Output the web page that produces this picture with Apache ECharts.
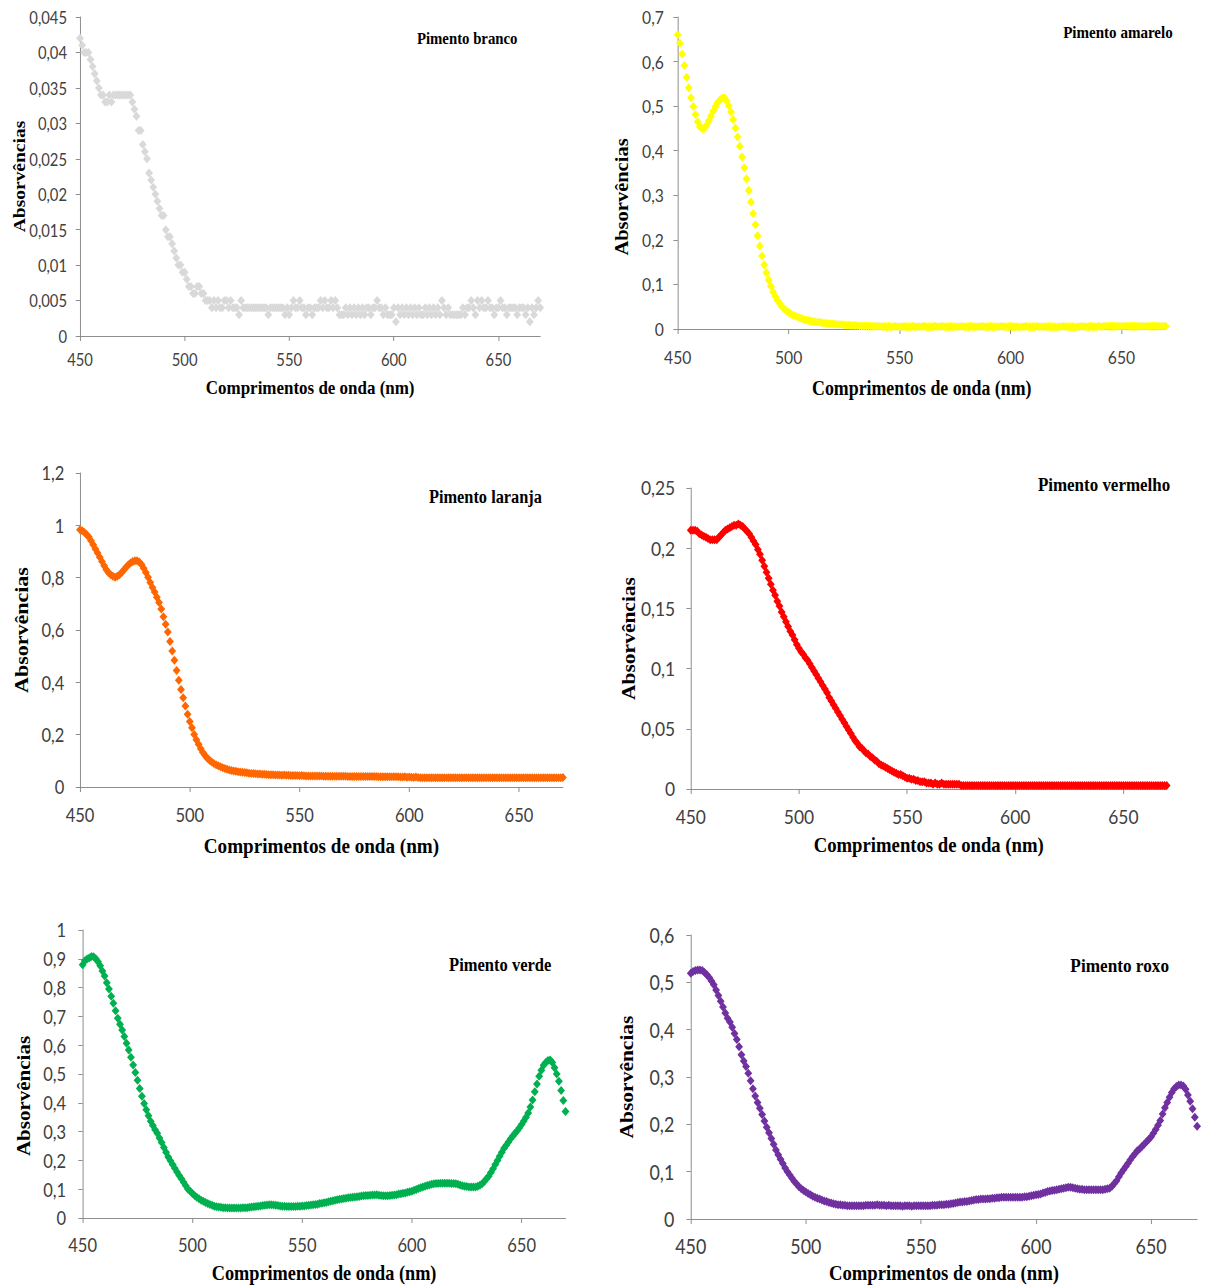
<!DOCTYPE html>
<html>
<head>
<meta charset="utf-8">
<script src="https://cdn.jsdelivr.net/npm/echarts@6/dist/echarts.min.js"></script>
<style>
html,body{margin:0;padding:0;background:#fff;overflow:hidden;width:1208px;height:1285px}
#wrap{width:1208px;height:1285px;overflow:hidden;position:relative}
#chart{width:1389px;height:1285px;transform:scaleX(0.87);transform-origin:0 0}
</style>
</head>
<body>
<div id="wrap"><div id="chart"></div></div>
<script>
// ---------- DATA ----------
const wavelengthStart = 450;
const wavelengthEnd = 670;
const wavelengths = [];
for (let w = wavelengthStart; w <= wavelengthEnd; w++) wavelengths.push(w);
const xTickValues = [450, 500, 550, 600, 650];
const xAxisTitle = 'Comprimentos de onda (nm)';
const yAxisTitle = 'Absorvências';
const panelTitles = ['Pimento branco','Pimento amarelo','Pimento laranja','Pimento vermelho','Pimento verde','Pimento roxo'];
const yMaxes = [0.045, 0.7, 1.2, 0.25, 1, 0.6];
const yIntervals = [0.005, 0.1, 0.2, 0.05, 0.1, 0.1];

const branco = [
0.042,0.041,0.040,0.040,0.040,0.039,0.038,0.037,0.036,0.035,
0.034,0.034,0.033,0.033,0.034,0.033,0.034,0.034,0.034,0.034,
0.034,0.034,0.034,0.034,0.034,0.033,0.032,0.031,0.029,0.029,
0.027,0.026,0.025,0.023,0.022,0.021,0.020,0.019,0.018,0.017,
0.017,0.015,0.014,0.014,0.013,0.012,0.011,0.010,0.010,0.009,
0.009,0.008,0.007,0.007,0.006,0.006,0.007,0.007,0.006,0.006,
0.005,0.005,0.005,0.004,0.005,0.004,0.005,0.004,0.004,0.005,
0.005,0.004,0.005,0.004,0.004,0.004,0.003,0.005,0.004,0.004,
0.004,0.004,0.004,0.004,0.004,0.004,0.004,0.004,0.004,0.004,
0.003,0.004,0.004,0.004,0.004,0.004,0.004,0.004,0.003,0.004,
0.003,0.004,0.005,0.004,0.004,0.005,0.004,0.004,0.003,0.004,
0.004,0.003,0.004,0.004,0.004,0.005,0.004,0.005,0.004,0.004,
0.005,0.004,0.005,0.004,0.003,0.003,0.003,0.004,0.003,0.004,
0.003,0.004,0.003,0.004,0.003,0.004,0.003,0.004,0.004,0.003,
0.004,0.004,0.005,0.004,0.004,0.003,0.004,0.003,0.003,0.003,
0.004,0.002,0.004,0.003,0.004,0.003,0.004,0.003,0.004,0.003,
0.004,0.003,0.004,0.003,0.003,0.004,0.003,0.004,0.003,0.004,
0.003,0.004,0.003,0.005,0.004,0.003,0.004,0.003,0.003,0.003,
0.003,0.003,0.003,0.004,0.003,0.004,0.004,0.005,0.004,0.003,
0.005,0.004,0.005,0.004,0.004,0.005,0.004,0.004,0.003,0.004,
0.004,0.005,0.004,0.004,0.003,0.004,0.004,0.004,0.004,0.003,
0.004,0.004,0.004,0.003,0.004,0.002,0.004,0.003,0.004,0.005,
0.004];

const amarelo = [
0.660,0.641,0.617,0.591,0.565,0.541,0.519,0.499,0.481,0.465,
0.454,0.449,0.450,0.457,0.467,0.478,0.489,0.499,0.508,0.514,
0.518,0.518,0.512,0.501,0.487,0.470,0.451,0.431,0.410,0.386,
0.362,0.337,0.311,0.285,0.259,0.234,0.209,0.186,0.164,0.144,
0.126,0.110,0.096,0.083,0.073,0.064,0.057,0.050,0.045,0.041,
0.037,0.034,0.031,0.029,0.027,0.025,0.023,0.021,0.020,0.019,
0.018,0.017,0.016,0.015,0.015,0.014,0.013,0.013,0.012,0.012,
0.011,0.011,0.010,0.010,0.010,0.009,0.009,0.009,0.008,0.008,
0.008,0.008,0.007,0.007,0.007,0.007,0.007,0.006,0.006,0.006,
0.006,0.006,0.005,0.006,0.005,0.006,0.005,0.005,0.006,0.005,
0.005,0.005,0.006,0.005,0.005,0.005,0.006,0.005,0.005,0.005,
0.005,0.006,0.005,0.005,0.005,0.005,0.006,0.005,0.005,0.006,
0.005,0.005,0.005,0.006,0.005,0.005,0.005,0.005,0.006,0.005,
0.005,0.005,0.006,0.005,0.005,0.005,0.005,0.006,0.005,0.005,
0.005,0.006,0.005,0.005,0.005,0.005,0.006,0.005,0.005,0.005,
0.006,0.005,0.005,0.005,0.004,0.005,0.005,0.006,0.005,0.005,
0.005,0.005,0.006,0.005,0.005,0.005,0.005,0.006,0.005,0.005,
0.005,0.004,0.005,0.005,0.006,0.005,0.005,0.005,0.005,0.004,
0.005,0.005,0.006,0.005,0.005,0.005,0.006,0.005,0.005,0.005,
0.006,0.005,0.006,0.007,0.006,0.006,0.006,0.006,0.006,0.006,
0.006,0.006,0.007,0.006,0.006,0.006,0.006,0.006,0.006,0.006,
0.006,0.006,0.006,0.006,0.006,0.007,0.006,0.006,0.006,0.006,
0.006];

const laranja = [
0.983,0.979,0.973,0.965,0.955,0.941,0.926,0.910,0.894,0.878,
0.862,0.846,0.830,0.819,0.811,0.805,0.802,0.805,0.811,0.820,
0.830,0.840,0.849,0.856,0.862,0.865,0.865,0.860,0.850,0.836,
0.820,0.802,0.782,0.762,0.745,0.725,0.705,0.680,0.651,0.622,
0.592,0.556,0.520,0.484,0.445,0.408,0.373,0.341,0.310,0.278,
0.250,0.226,0.201,0.181,0.163,0.146,0.132,0.120,0.110,0.102,
0.096,0.090,0.085,0.081,0.077,0.074,0.071,0.068,0.065,0.063,
0.061,0.060,0.058,0.057,0.056,0.055,0.054,0.053,0.052,0.052,
0.051,0.050,0.050,0.049,0.049,0.048,0.047,0.047,0.047,0.046,
0.046,0.046,0.045,0.046,0.045,0.045,0.044,0.044,0.044,0.044,
0.043,0.044,0.043,0.042,0.042,0.042,0.042,0.042,0.042,0.042,
0.042,0.041,0.041,0.041,0.041,0.041,0.041,0.041,0.041,0.041,
0.041,0.041,0.040,0.040,0.040,0.040,0.040,0.040,0.040,0.040,
0.040,0.040,0.040,0.040,0.040,0.040,0.039,0.039,0.039,0.039,
0.039,0.039,0.039,0.039,0.039,0.039,0.038,0.038,0.039,0.037,
0.038,0.037,0.036,0.038,0.036,0.035,0.035,0.035,0.035,0.035,
0.035,0.035,0.035,0.035,0.035,0.035,0.035,0.035,0.035,0.035,
0.035,0.035,0.035,0.035,0.035,0.035,0.035,0.035,0.035,0.035,
0.035,0.035,0.035,0.035,0.035,0.035,0.035,0.035,0.035,0.035,
0.035,0.035,0.035,0.035,0.035,0.035,0.035,0.035,0.035,0.035,
0.035,0.035,0.035,0.035,0.035,0.035,0.035,0.035,0.035,0.035,
0.035,0.035,0.035,0.035,0.035,0.035,0.035,0.035,0.035,0.035,
0.036];

const vermelho = [
0.215,0.215,0.215,0.214,0.212,0.211,0.210,0.209,0.208,0.207,
0.207,0.207,0.207,0.209,0.211,0.213,0.215,0.216,0.217,0.218,
0.219,0.219,0.220,0.219,0.218,0.216,0.214,0.212,0.209,0.206,
0.203,0.199,0.195,0.190,0.185,0.180,0.175,0.170,0.165,0.161,
0.156,0.152,0.147,0.143,0.139,0.135,0.131,0.128,0.124,0.120,
0.117,0.114,0.112,0.109,0.107,0.104,0.101,0.098,0.095,0.092,
0.089,0.086,0.083,0.080,0.076,0.073,0.070,0.067,0.064,0.061,
0.058,0.055,0.052,0.049,0.046,0.043,0.040,0.038,0.035,0.034,
0.032,0.030,0.029,0.027,0.026,0.024,0.023,0.021,0.020,0.019,
0.018,0.017,0.016,0.015,0.014,0.013,0.012,0.012,0.011,0.010,
0.009,0.009,0.008,0.008,0.007,0.007,0.006,0.006,0.006,0.005,
0.005,0.005,0.004,0.005,0.004,0.004,0.005,0.004,0.004,0.004,
0.004,0.004,0.004,0.004,0.004,0.003,0.003,0.003,0.003,0.003,
0.003,0.003,0.003,0.003,0.003,0.003,0.003,0.003,0.003,0.003,
0.003,0.003,0.003,0.003,0.003,0.003,0.003,0.003,0.003,0.003,
0.003,0.003,0.003,0.003,0.003,0.003,0.003,0.003,0.003,0.003,
0.003,0.003,0.003,0.003,0.003,0.003,0.003,0.003,0.003,0.003,
0.003,0.003,0.003,0.003,0.003,0.003,0.003,0.003,0.003,0.003,
0.003,0.003,0.003,0.003,0.003,0.003,0.003,0.003,0.003,0.003,
0.003,0.003,0.003,0.003,0.003,0.003,0.003,0.003,0.003,0.003,
0.003,0.003,0.003,0.003,0.003,0.003,0.003,0.003,0.003,0.003,
0.003,0.003,0.003,0.003,0.003,0.003,0.003,0.003,0.003,0.003,
0.003];

const verde = [
0.879,0.893,0.899,0.903,0.908,0.907,0.900,0.890,0.876,0.858,
0.840,0.817,0.795,0.770,0.746,0.720,0.694,0.673,0.653,0.630,
0.607,0.583,0.558,0.531,0.505,0.478,0.450,0.423,0.398,0.376,
0.355,0.336,0.321,0.306,0.294,0.278,0.262,0.245,0.228,0.212,
0.199,0.186,0.173,0.160,0.148,0.136,0.124,0.112,0.100,0.093,
0.085,0.078,0.072,0.067,0.062,0.058,0.054,0.050,0.047,0.044,
0.041,0.039,0.038,0.037,0.036,0.036,0.035,0.035,0.035,0.035,
0.035,0.035,0.035,0.036,0.036,0.036,0.037,0.038,0.039,0.040,
0.041,0.042,0.043,0.044,0.045,0.046,0.046,0.045,0.044,0.043,
0.042,0.041,0.041,0.040,0.040,0.040,0.040,0.040,0.041,0.041,
0.042,0.042,0.043,0.044,0.045,0.046,0.047,0.048,0.050,0.051,
0.053,0.054,0.056,0.058,0.060,0.062,0.063,0.065,0.066,0.068,
0.069,0.070,0.071,0.072,0.073,0.074,0.075,0.076,0.077,0.078,
0.078,0.079,0.080,0.080,0.081,0.079,0.078,0.077,0.077,0.077,
0.078,0.079,0.080,0.081,0.083,0.084,0.086,0.087,0.089,0.091,
0.093,0.096,0.099,0.102,0.105,0.108,0.110,0.113,0.115,0.117,
0.119,0.120,0.120,0.121,0.121,0.121,0.121,0.121,0.120,0.120,
0.119,0.117,0.115,0.112,0.110,0.109,0.108,0.108,0.108,0.108,
0.110,0.114,0.119,0.127,0.136,0.145,0.158,0.171,0.186,0.200,
0.214,0.228,0.242,0.253,0.264,0.275,0.285,0.294,0.303,0.313,
0.325,0.337,0.350,0.365,0.385,0.410,0.438,0.465,0.492,0.513,
0.530,0.540,0.547,0.549,0.540,0.522,0.500,0.475,0.443,0.408,
0.370];

const roxo = [
0.519,0.523,0.525,0.526,0.526,0.525,0.521,0.516,0.510,0.503,
0.495,0.484,0.472,0.460,0.448,0.435,0.424,0.416,0.405,0.392,
0.379,0.364,0.347,0.334,0.322,0.308,0.292,0.275,0.260,0.246,
0.234,0.221,0.207,0.194,0.182,0.170,0.158,0.146,0.136,0.126,
0.117,0.108,0.100,0.093,0.086,0.079,0.074,0.068,0.064,0.060,
0.057,0.054,0.051,0.048,0.046,0.044,0.042,0.040,0.038,0.037,
0.035,0.034,0.032,0.031,0.030,0.030,0.029,0.029,0.028,0.028,
0.028,0.028,0.028,0.028,0.028,0.028,0.029,0.029,0.029,0.029,
0.029,0.030,0.029,0.029,0.029,0.028,0.029,0.028,0.028,0.028,
0.028,0.028,0.027,0.028,0.028,0.028,0.027,0.028,0.028,0.028,
0.028,0.028,0.028,0.028,0.028,0.029,0.029,0.029,0.030,0.030,
0.030,0.031,0.031,0.032,0.033,0.034,0.035,0.036,0.036,0.037,
0.037,0.038,0.039,0.040,0.041,0.041,0.042,0.042,0.042,0.043,
0.043,0.044,0.044,0.045,0.045,0.046,0.046,0.046,0.046,0.046,
0.046,0.046,0.046,0.046,0.046,0.047,0.047,0.048,0.049,0.050,
0.051,0.052,0.053,0.055,0.056,0.058,0.059,0.060,0.061,0.062,
0.063,0.064,0.065,0.066,0.067,0.067,0.066,0.065,0.064,0.063,
0.063,0.062,0.062,0.062,0.062,0.062,0.062,0.062,0.062,0.062,
0.063,0.064,0.065,0.069,0.075,0.081,0.089,0.097,0.104,0.111,
0.118,0.125,0.132,0.138,0.144,0.148,0.153,0.158,0.163,0.168,
0.174,0.181,0.189,0.198,0.208,0.222,0.235,0.246,0.257,0.267,
0.275,0.280,0.283,0.283,0.281,0.274,0.262,0.249,0.233,0.215,
0.196];

const seriesValues = [branco, amarelo, laranja, vermelho, verde, roxo];

// ---------- LAYOUT / STYLE (unscaled coordinates; page is squeezed horizontally by 0.87) ----------
const colors = ['#D9D9D9', '#FFFF00', '#FF6600', '#FF0000', '#00B050', '#7030A0'];
const grids = [
  [92, 17, 529, 319],
  [779, 17, 561, 312],
  [92, 473, 555, 314],
  [794, 488, 547, 301],
  [95, 930, 555, 288],
  [794, 935, 582, 284]
];
const titlePos = [[537, 38, 17], [1285, 33, 17.3], [558, 497, 18.8], [1269, 485, 19.5], [575, 965, 19], [1287, 965, 19.8]];
const tickFont = [17, 18, 19, 20, 19, 20.5];
const xLabelMargin = [15, 19, 18, 18, 17, 16];
const yLabelMargin = [15, 16, 18, 18, 19, 19];
const nameFont = [19.5, 20.5, 22, 21.5, 21, 21.5];
const xNameGap = [42, 49, 48, 45, 44, 43];
const yNameGap = [60, 54, 56, 61, 58, 63];
const yNameShift = [0, 24, 0, 0, 22, 0];

const SERIF = "'Liberation Serif', 'Times New Roman', serif";
const SANS = "Lato, 'Noto Sans', sans-serif";
const AXIS_COLOR = '#868686';
const LABEL_COLOR = '#404040';

const fmt = v => String(+Number(v).toFixed(4)).replace('.', ',');

const option = {
  animation: false,
  backgroundColor: '#ffffff',
  grid: grids.map(g => ({ left: g[0], top: g[1], width: g[2], height: g[3], containLabel: false, outerBoundsMode: 'none' })),
  graphic: panelTitles.map((t, i) => ({
    type: 'text',
    x: titlePos[i][0],
    y: titlePos[i][1],
    silent: true,
    style: {
      text: t,
      fill: '#000',
      font: 'bold ' + titlePos[i][2] + 'px ' + SERIF,
      align: 'center',
      verticalAlign: 'middle',
      textAlign: 'center',
      textVerticalAlign: 'middle'
    }
  })),
  xAxis: grids.map((g, i) => ({
    gridIndex: i,
    type: 'value',
    min: wavelengthStart,
    max: wavelengthEnd,
    interval: 50,
    splitLine: { show: false },
    axisLine: { show: true, onZero: false, lineStyle: { color: AXIS_COLOR, width: 1 } },
    axisTick: { show: true, inside: false, length: 5, customValues: xTickValues, lineStyle: { color: AXIS_COLOR } },
    axisLabel: { show: true, customValues: xTickValues, margin: xLabelMargin[i], color: LABEL_COLOR, fontFamily: SANS, fontSize: tickFont[i] },
    name: xAxisTitle,
    nameLocation: 'middle',
    nameGap: xNameGap[i],
    nameMoveOverlap: false,
    nameTextStyle: { fontFamily: SERIF, fontWeight: 'bold', fontSize: nameFont[i], color: '#000' }
  })),
  yAxis: grids.map((g, i) => ({
    gridIndex: i,
    type: 'value',
    min: 0,
    max: yMaxes[i],
    interval: yIntervals[i],
    splitLine: { show: false },
    axisLine: { show: true, lineStyle: { color: AXIS_COLOR, width: 1 } },
    axisTick: { show: true, inside: false, length: 5, lineStyle: { color: AXIS_COLOR } },
    axisLabel: { show: true, margin: yLabelMargin[i], color: LABEL_COLOR, fontFamily: SANS, fontSize: tickFont[i], formatter: fmt },
    name: yAxisTitle,
    nameLocation: 'middle',
    nameGap: yNameGap[i],
    nameMoveOverlap: false,
    nameTextStyle: {
      fontFamily: SERIF, fontWeight: 'bold', fontSize: nameFont[i], color: '#000',
      padding: [0, yNameShift[i] * 2, 0, 0]
    }
  })),
  series: seriesValues.map((vals, i) => ({
    type: 'scatter',
    xAxisIndex: i,
    yAxisIndex: i,
    symbol: 'diamond',
    symbolSize: 9,
    silent: true,
    itemStyle: { color: colors[i], opacity: 1 },
    data: wavelengths.map((w, k) => [w, vals[k]])
  }))
};

const chart = echarts.init(document.getElementById('chart'), null, { renderer: 'svg', width: 1389, height: 1285 });
chart.setOption(option);
</script>
</body>
</html>
